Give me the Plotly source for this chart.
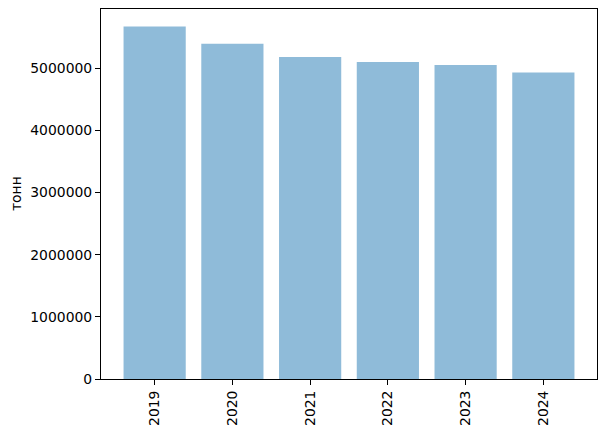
import plotly.graph_objects as go

years = ["2019", "2020", "2021", "2022", "2023", "2024"]
values = [5670000, 5396000, 5180000, 5100000, 5053000, 4930000]
y_ticks = [0, 1000000, 2000000, 3000000, 4000000, 5000000]

positions = list(range(len(years)))

fig = go.Figure()
fig.add_trace(go.Bar(
    x=positions, y=values, width=0.8,
    marker=dict(color="rgba(31,119,180,0.5)", line=dict(width=0)),
))

font = dict(family="DejaVu Sans", size=13.9, color="black")
fig.update_layout(
    width=607, height=434,
    margin=dict(l=101, r=10, t=9, b=55, autoexpand=False),
    plot_bgcolor="white", paper_bgcolor="white",
    showlegend=False, font=font,
    xaxis=dict(
        range=[-0.69, 5.69], tickvals=positions, ticktext=years,
        tickangle=-90, ticks="outside", ticklen=5, tickwidth=1.1, tickcolor="black",
        showline=True, linecolor="black", linewidth=1.1, mirror=True,
        showgrid=False, zeroline=False, tickfont=font,
    ),
    yaxis=dict(
        range=[0, 5953500], tickvals=y_ticks, ticktext=[str(v) for v in y_ticks],
        ticks="outside", ticklen=5, tickwidth=1.1, tickcolor="black",
        showline=True, linecolor="black", linewidth=1.1, mirror=True,
        showgrid=False, zeroline=False, tickfont=font,
    ),
    annotations=[dict(
        text="тонн", textangle=-90, xref="paper", yref="paper",
        x=(16 - 101) / 496, y=0.5, xanchor="center", yanchor="middle",
        showarrow=False, font=font,
    )],
)

fig.write_html("out.html", config={"responsive": False, "displayModeBar": False})

with open("out.html", encoding="utf-8") as f:
    html = f.read()
html = html.replace("<body>", '<body style="margin:0;padding:0;overflow:hidden">', 1)
with open("out.html", "w", encoding="utf-8") as f:
    f.write(html)
